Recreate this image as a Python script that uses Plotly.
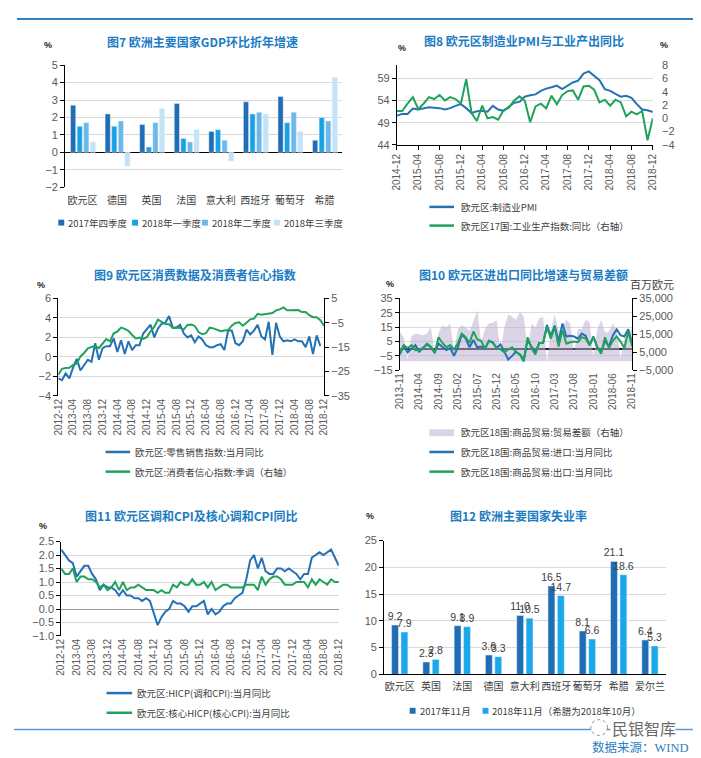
import plotly.graph_objects as go
import pandas as pd

W, H = 701, 758
def PX(x): return x / W
def PY(y): return 1 - y / H

CJK = "Noto Sans CJK SC"
NUM = "Liberation Sans, Noto Sans CJK SC"
BLUE_LINE = "#2472B6"
GREEN_LINE = "#1FA25A"
TITLE_C = "#1B7CC3"
GRID = "#d9d9d9"
TICK_C = "#595959"

# ---------------- Fig 7: GDP ----------------
gdp_countries = ['欧元区', '德国', '英国', '法国', '意大利', '西班牙', '葡萄牙', '希腊']
gdp_q4_2017 = [2.7, 2.2, 1.6, 2.8, 1.2, 2.9, 3.2, 0.7]
gdp_q1_2018 = [1.5, 1.5, 0.3, 0.8, 1.3, 2.2, 1.7, 2.0]
gdp_q2_2018 = [1.7, 1.8, 1.7, 0.6, 0.7, 2.3, 2.3, 1.8]
gdp_q3_2018 = [0.6, -0.8, 2.5, 1.3, -0.5, 2.2, 1.2, 4.3]
gdp_names = ['2017年四季度', '2018年一季度', '2018年二季度', '2018年三季度']
gdp_colors = ['#1F6DB5', '#17A2E6', '#6BB8EC', '#C3E3F7']

# ---------------- Fig 8: PMI & IP ----------------
months_p2 = pd.date_range('2014-12-01', '2018-12-01', freq='MS').strftime('%Y-%m').tolist()
pmi = [50.6, 51.0, 51.0, 52.2, 52.0, 52.2, 52.5, 52.4, 52.3, 52.0, 52.3, 52.8, 53.2,
       52.3, 51.2, 51.6, 51.7, 51.5, 52.8, 52.0, 51.7, 52.6, 53.5, 53.7, 54.9,
       55.2, 55.4, 56.2, 56.7, 57.0, 57.4, 56.6, 57.4, 58.1, 58.5, 60.1, 60.6,
       59.6, 58.6, 56.6, 56.2, 55.5, 54.9, 55.1, 54.6, 53.2, 52.0, 51.8, 51.4]
ip_yoy = [1.1, 1.1, 2.2, 3.2, 1.4, 2.2, 3.2, 2.9, 3.5, 2.7, 3.2, 2.9, 2.2,
          5.9, 0.8, -0.4, 1.9, 0.0, 0.2, -0.2, 1.2, 1.6, 2.7, 3.3, 2.6,
          -0.6, 1.8, 2.2, 1.5, 3.4, 2.1, 3.5, 4.1, 4.2, 2.8, 4.8, 4.9,
          4.3, 2.4, 2.8, 1.9, 2.8, 2.4, 0.3, 1.0, 0.6, 1.1, -3.3, 0.0]

# ---------------- Fig 9: retail & confidence ----------------
months_p3 = pd.date_range('2012-12-01', '2018-12-01', freq='MS').strftime('%Y-%m').tolist()
retail_yoy = [-2.2, -2.4, -1.7, -2.2, -1.1, -0.2, -1.4, -0.8, -0.3, -0.5,
              1.4, -0.3, 0.9, 1.1, 1.1, 1.9, 0.5, 1.7, 0.3, 1.6,
              0.7, 1.2, 1.2, 2.4, 2.9, 3.3, 2.0, 2.9, 3.4, 3.5,
              4.2, 3.0, 3.0, 3.3, 2.4, 2.0, 2.2, 1.5, 2.1, 1.8,
              1.2, 1.0, 1.0, 1.2, 1.3, 0.7, 2.7, 2.7, 1.4, 1.2,
              1.6, 2.8, 2.3, 2.7, 3.3, 2.1, 1.8, 3.6, 0.2, 3.5,
              2.1, 1.6, 1.7, 1.6, 1.8, 1.6, 1.6, 1.0, 2.1, 0.3,
              2.2, 1.1]
confidence = [-26.3, -23.9, -23.6, -23.5, -22.3, -21.8, -18.8, -17.4, -15.5, -14.9, -14.5, -15.4, -13.5,
              -11.7, -12.6, -9.3, -8.6, -7.0, -7.5, -8.3, -10.0, -11.4, -11.1, -11.6, -10.9,
              -8.5, -6.7, -3.7, -4.6, -5.5, -5.6, -7.1, -6.9, -7.1, -7.7, -5.9, -5.7,
              -6.3, -8.8, -9.7, -9.3, -7.0, -7.3, -7.9, -8.5, -8.2, -8.0, -6.2, -5.1,
              -4.8, -6.2, -5.0, -3.6, -3.3, -1.3, -1.7, -1.5, -1.2, -1.0, 0.1, 0.5,
              1.3, 0.1, 0.1, 0.3, 0.2, -0.6, -0.6, -1.9, -2.7, -2.7, -3.9, -6.2]

# ---------------- Fig 10: trade ----------------
months_p4 = pd.date_range('2013-11-01', '2018-11-01', freq='MS').strftime('%Y-%m').tolist()
trade_balance = [16500, 13500, 1000, 14000, 15500, 15000, 14500, 15500, 19000, 5000,
                 16000, 20000, 19000, 21000, 6000, 18000, 20000, 19000, 17000, 22000,
                 28500, 11000, 18000, 21000, 21500, 23000, 5000, 19000, 26000, 25000,
                 23000, 27500, 25000, 6000, 21000, 19000, 24000, 25000, -1000, 17000,
                 26000, 17000, 19000, 23000, 21000, 5000, 18000, 18000, 23000, 22000,
                 3000, 18000, 23000, 16000, 16500, 21000, 17000, 2000, 13000, 13500, 19000]
import_yoy = [-4, 2, -2.5, 0, 2.5, -2, 0.5, 3, 1, -2.5,
              3.5, 1, -1, 0.5, -5, 1, 10, 7, 1, 6,
              1, 1.5, 0, 5.5, 4.5, 0.5, 3, -2, -7.5, -5,
              -2, -4, -7.5, 5.5, 1.5, -2.5, 4, 4, 16.5, 9,
              16, 5, 17.5, 8.5, 9, 8.5, 7, 10.5, 9, 2.5,
              8.5, 1, -2, 5.5, 1.5, 9, 13.5, 9.5, 8.5, 13.5, 3.5]
export_yoy = [-3, 2.5, 0.5, 2.5, -1, -1, 0.5, 3.5, 1.5, -3,
              8, 4, 1, 2.5, -0.5, 4, 10.5, 8, 4, 12,
              6.5, 5.5, 0, 5.5, 4, 0.5, -0.5, -2.5, -0.5, 1,
              -2.5, -4, -9, 8, 0.5, -4, 4, 4, 15, 7,
              15, 1.5, 13, 3.5, 4.5, 5, 4.5, 8, 7, 2.5,
              8, 1, -3.5, 8, 0.5, 5.5, 8.5, 5, 0.5, 12, 1.5]

# ---------------- Fig 11: HICP ----------------
months_p5 = pd.date_range('2012-12-01', '2018-12-01', freq='MS').strftime('%Y-%m').tolist()
hicp = [2.2, 2.0, 1.8, 1.7, 1.2, 1.4, 1.6, 1.6, 1.3, 1.1, 0.7, 0.9, 0.8,
        0.8, 0.7, 0.5, 0.7, 0.5, 0.5, 0.4, 0.4, 0.3, 0.4, 0.3, -0.2,
        -0.6, -0.3, -0.1, 0.0, 0.3, 0.2, 0.2, 0.1, -0.1, 0.1, 0.1, 0.2,
        0.3, -0.2, 0.0, -0.2, -0.1, 0.1, 0.2, 0.2, 0.4, 0.5, 0.6, 1.1,
        1.8, 2.0, 1.5, 1.9, 1.4, 1.3, 1.3, 1.5, 1.5, 1.4, 1.5, 1.4,
        1.3, 1.1, 1.3, 1.3, 1.9, 2.0, 2.1, 2.0, 2.1, 2.2, 1.9, 1.6]
core_hicp = [1.5, 1.3, 1.3, 1.5, 1.0, 1.2, 1.2, 1.1, 1.1, 1.0, 0.8, 0.9, 0.7,
             0.8, 1.0, 0.7, 1.0, 0.7, 0.8, 0.8, 0.9, 0.8, 0.7, 0.7, 0.7,
             0.6, 0.7, 0.6, 0.6, 0.9, 0.8, 1.0, 0.9, 0.9, 1.1, 0.9, 0.9,
             1.0, 0.8, 1.0, 0.7, 0.8, 0.9, 0.9, 0.8, 0.8, 0.8, 0.8, 0.9,
             0.9, 0.9, 0.7, 1.2, 0.9, 1.1, 1.2, 1.2, 1.1, 0.9, 0.9, 0.9,
             1.0, 1.0, 1.0, 0.8, 1.1, 0.9, 1.1, 1.0, 0.9, 1.1, 1.0, 1.0]

# ---------------- Fig 12: unemployment ----------------
unemp_countries = ['欧元区', '英国', '法国', '德国', '意大利', '西班牙', '葡萄牙', '希腊', '爱尔兰']
unemp_2017_11 = [9.2, 2.3, 9.1, 3.6, 11.0, 16.5, 8.1, 21.1, 6.4]
unemp_2018_11 = [7.9, 2.8, 8.9, 3.3, 10.5, 14.7, 6.6, 18.6, 5.3]
unemp_names = ['2017年11月', '2018年11月（希腊为2018年10月）']
unemp_colors = ['#1F6DB5', '#1AA8EA']

fig = go.Figure()

# Fig 7 bars
gdp_vals = [gdp_q4_2017, gdp_q1_2018, gdp_q2_2018, gdp_q3_2018]
gdp_offsets = [-0.345, -0.155, 0.035, 0.225]
for vals, name, col, off in zip(gdp_vals, gdp_names, gdp_colors, gdp_offsets):
    fig.add_trace(go.Bar(x=gdp_countries, y=vals, name=name, marker_color=col,
                         width=0.15, offset=off, xaxis='x', yaxis='y', showlegend=False))

# Fig 8 lines
fig.add_trace(go.Scatter(x=months_p2, y=pmi, mode='lines', line=dict(color=BLUE_LINE, width=2),
                         xaxis='x2', yaxis='y2', showlegend=False))
fig.add_trace(go.Scatter(x=months_p2, y=ip_yoy, mode='lines', line=dict(color=GREEN_LINE, width=2),
                         xaxis='x2', yaxis='y3', showlegend=False))

# Fig 9 lines
fig.add_trace(go.Scatter(x=months_p3[:len(retail_yoy)], y=retail_yoy, mode='lines',
                         line=dict(color=BLUE_LINE, width=2), xaxis='x3', yaxis='y4', showlegend=False))
fig.add_trace(go.Scatter(x=months_p3, y=confidence, mode='lines',
                         line=dict(color=GREEN_LINE, width=2), xaxis='x3', yaxis='y5', showlegend=False))

# Fig 10 area + lines
fig.add_trace(go.Scatter(x=months_p4, y=trade_balance, mode='lines', fill='tozeroy',
                         line=dict(width=0, color='rgba(0,0,0,0)'),
                         fillcolor='rgba(190,176,212,0.55)', xaxis='x4', yaxis='y6', showlegend=False))
fig.add_trace(go.Scatter(x=months_p4, y=import_yoy, mode='lines', line=dict(color=BLUE_LINE, width=2),
                         xaxis='x4', yaxis='y7', showlegend=False))
fig.add_trace(go.Scatter(x=months_p4, y=export_yoy, mode='lines', line=dict(color=GREEN_LINE, width=2),
                         xaxis='x4', yaxis='y7', showlegend=False))

# Fig 11 lines
fig.add_trace(go.Scatter(x=months_p5, y=hicp, mode='lines', line=dict(color=BLUE_LINE, width=2),
                         xaxis='x5', yaxis='y8', showlegend=False))
fig.add_trace(go.Scatter(x=months_p5, y=core_hicp, mode='lines', line=dict(color=GREEN_LINE, width=2),
                         xaxis='x5', yaxis='y8', showlegend=False))

# Fig 12 bars
for vals, name, col, off in zip([unemp_2017_11, unemp_2018_11], unemp_names, unemp_colors, [-0.26, 0.04]):
    fig.add_trace(go.Bar(x=unemp_countries, y=vals, name=name, marker_color=col, width=0.22, offset=off,
                         texttemplate='%{y:.1f}', textposition='outside', cliponaxis=False,
                         constraintext='none',
                         textfont=dict(family=NUM, size=10.5, color='#404040'),
                         xaxis='x6', yaxis='y9', showlegend=False))

tickf = dict(family=NUM, size=11, color=TICK_C)
datef = dict(family=NUM, size=10, color=TICK_C)
catf = dict(family=CJK, size=10, color='#404040')

def yax(**kw):
    d = dict(showgrid=True, gridcolor=GRID, gridwidth=1, showline=True, linecolor='#000', linewidth=1,
             ticks='outside', ticklen=4, tickcolor='#000', tickfont=tickf, zeroline=False, fixedrange=True)
    d.update(kw)
    return d

def xdate(dom, anchor, months, step, **kw):
    d = dict(domain=dom, anchor=anchor, type='category', range=[0, len(months) - 1],
             tickmode='array', tickvals=months[::step], tickangle=-90, tickfont=datef,
             showgrid=False, zeroline=False, showline=False, ticks='', fixedrange=True)
    d.update(kw)
    return d

right_noline = dict(showline=False, ticks='outside', tickcolor='rgba(0,0,0,0)', ticklen=6)

fig.update_layout(
    width=W, height=H, margin=dict(l=0, r=0, t=0, b=0),
    paper_bgcolor='white', plot_bgcolor='white', showlegend=False, barmode='overlay',
    font=dict(family=NUM, size=11, color='#404040'),
    # Fig 7
    xaxis=dict(domain=[PX(52), PX(333)], anchor='y', type='category', tickfont=catf, tickangle=0,
               showline=False, ticks='outside', ticklen=4, tickcolor='rgba(0,0,0,0)',
               showgrid=False, zeroline=False, fixedrange=True),
    yaxis=yax(domain=[PY(176), PY(52)], anchor='x', range=[-2, 5], dtick=1,
              zeroline=True, zerolinecolor='#000', zerolinewidth=1),
    # Fig 8
    xaxis2=xdate([PX(389), PX(649)], 'y2', months_p2, 4, showline=True, linecolor='#000',
                 ticks='outside', ticklen=4, tickcolor='#000'),
    yaxis2=yax(domain=[PY(133), PY(52)], anchor='x2', range=[44, 62], tickvals=[44, 49, 54, 59]),
    yaxis3=dict(overlaying='y2', side='right', anchor='x2', range=[-4, 8], dtick=2, showgrid=False,
                zeroline=False, tickfont=tickf, fixedrange=True, **right_noline),
    # Fig 9
    xaxis3=xdate([PX(45), PX(315)], 'y4', months_p3, 4),
    yaxis4=yax(domain=[PY(388), PY(289)], anchor='x3', range=[-4, 6], dtick=2),
    yaxis5=yax(overlaying='y4', side='right', anchor='x3', range=[-35, 5], tick0=-35, dtick=10,
               showgrid=False),
    # Fig 10
    xaxis4=xdate([PX(392), PX(628)], 'y6', months_p4, 5),
    yaxis6=yax(domain=[PY(362), PY(289)], anchor='x4', side='right', range=[-5000, 35000],
               tickvals=[-5000, 5000, 15000, 25000, 35000], tickformat=',', showgrid=False),
    yaxis7=yax(overlaying='y6', side='left', anchor='x4', range=[-15, 35], tick0=-15, dtick=10,
               zeroline=True, zerolinecolor='#1a1a1a', zerolinewidth=1.5),
    # Fig 11
    xaxis5=xdate([PX(48), PX(330)], 'y8', months_p5, 4),
    yaxis8=yax(domain=[PY(632), PY(536)], anchor='x5', range=[-1, 2.5], dtick=0.5, tickformat='.1f',
               zeroline=True, zerolinecolor='#9a9a9a', zerolinewidth=1),
    # Fig 12
    xaxis6=dict(domain=[PX(376), PX(662)], anchor='y9', type='category', tickfont=catf, tickangle=0,
                showline=True, linecolor='#000', ticks='outside', ticklen=3, tickcolor='rgba(0,0,0,0)',
                showgrid=False, zeroline=False, fixedrange=True),
    yaxis9=yax(domain=[PY(671), PY(535)], anchor='x6', range=[0, 25], dtick=5),
)

ann = []
def text(x, y, s, size=10, color='#222', family=CJK, xanchor='center', bold=False):
    ann.append(dict(x=PX(x), y=PY(y), xref='paper', yref='paper', text=(f'<b>{s}</b>' if bold else s),
                    showarrow=False, xanchor=xanchor, yanchor='middle',
                    font=dict(family=family, size=size, color=color)))

# titles
text(192, 28, '图7 欧洲主要国家GDP环比折年增速', 12, TITLE_C, bold=True)
text(518, 27, '图8 欧元区制造业PMI与工业产出同比', 12, TITLE_C, bold=True)
text(184, 265, '图9 欧元区消费数据及消费者信心指数', 12, TITLE_C, bold=True)
text(518, 265, '图10 欧元区进出口同比增速与贸易差额', 12, TITLE_C, bold=True)
text(180, 510, '图11 欧元区调和CPI及核心调和CPI同比', 12, TITLE_C, bold=True)
text(513, 510, '图12 欧洲主要国家失业率', 12, TITLE_C, bold=True)

# unit labels
for (ux, uy) in [(35, 31), (394, 35), (660, 31), (27, 275), (382, 274), (29, 520), (362, 510)]:
    text(ux, uy, '%', 9, '#222', NUM, bold=True)
text(648, 274, '百万欧元', 11, '#404040')

shapes = []
def line_sw(x0, x1, y, color, w=2.5):
    shapes.append(dict(type='line', xref='paper', yref='paper', x0=PX(x0), x1=PX(x1), y0=PY(y), y1=PY(y),
                       line=dict(color=color, width=w)))
def rect_sw(x0, x1, y0, y1, color):
    shapes.append(dict(type='rect', xref='paper', yref='paper', x0=PX(x0), x1=PX(x1), y0=PY(y1), y1=PY(y0),
                       fillcolor=color, line=dict(width=0)))

LEG = 9.5
# Fig 7 legend
for sx, name, col in zip([45, 120, 191, 264], gdp_names, gdp_colors):
    rect_sw(sx, sx + 6, 209, 215, col)
    text(sx + 8, 212, name, LEG, '#404040', xanchor='left')
# Fig 8 legend
line_sw(422, 447, 196, BLUE_LINE)
text(452, 196, '欧元区:制造业PMI', LEG, '#404040', xanchor='left')
line_sw(422, 447, 215, GREEN_LINE)
text(452, 215, '欧元区17国:工业生产指数:同比（右轴）', LEG, '#404040', xanchor='left')
# Fig 9 legend
line_sw(93, 118, 445, BLUE_LINE)
text(121, 445, '欧元区:零售销售指数:当月同比', LEG, '#404040', xanchor='left')
line_sw(93, 118, 465, GREEN_LINE)
text(121, 465, '欧元区:消费者信心指数:季调（右轴）', LEG, '#404040', xanchor='left')
# Fig 10 legend
rect_sw(422, 447, 422, 429, 'rgba(190,176,212,0.55)')
text(452, 425, '欧元区18国:商品贸易:贸易差额（右轴）', LEG, '#404040', xanchor='left')
line_sw(422, 447, 445, BLUE_LINE)
text(452, 445, '欧元区18国:商品贸易:进口:当月同比', LEG, '#404040', xanchor='left')
line_sw(422, 447, 465, GREEN_LINE)
text(452, 465, '欧元区18国:商品贸易:出口:当月同比', LEG, '#404040', xanchor='left')
# Fig 11 legend
line_sw(94, 120, 690, BLUE_LINE)
text(123, 690, '欧元区:HICP(调和CPI):当月同比', LEG, '#404040', xanchor='left')
line_sw(94, 120, 710, GREEN_LINE)
text(123, 710, '欧元区:核心HICP(核心CPI):当月同比', LEG, '#404040', xanchor='left')
# Fig 12 legend
for sx, name, col in zip([402, 476], unemp_names, unemp_colors):
    rect_sw(sx, sx + 6, 705, 711, col)
    text(sx + 8, 708, name, LEG, '#404040', xanchor='left')

# page decorations
line_sw(3, 697, 5, '#2F80C2', 2)
line_sw(0, 701, 727, '#5B9BD5', 1.5)
shapes.append(dict(type='circle', xref='paper', yref='paper', x0=PX(586), x1=PX(603), y0=PY(733), y1=PY(717),
                   line=dict(color='#8a8a8a', width=1, dash='dot'), fillcolor='white'))
rect_sw(606, 672, 716, 734, 'white')
text(640, 725, '民银智库', 16, '#6a6a6a')
text(636, 745, '数据来源：WIND', 12.5, '#2E7FC2', family='Liberation Serif, Noto Sans CJK SC')

fig.update_layout(annotations=ann, shapes=shapes)
fig.write_html('out.html')
